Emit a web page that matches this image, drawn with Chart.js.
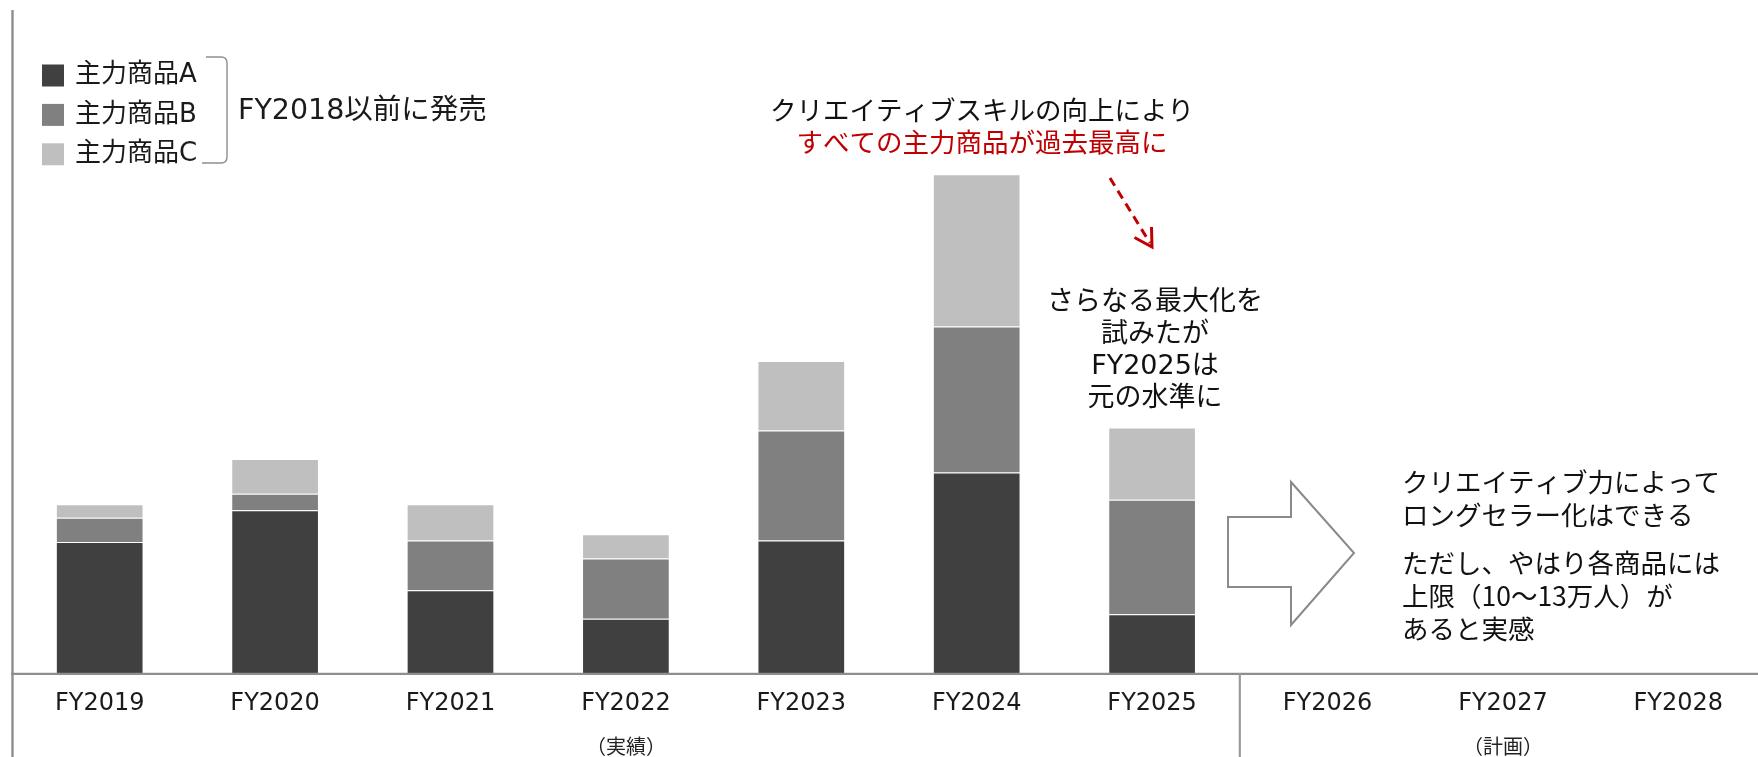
<!DOCTYPE html>
<html lang="ja">
<head>
<meta charset="utf-8">
<title>主力商品の推移</title>
<script src="https://cdn.jsdelivr.net/npm/chart.js@4/dist/chart.umd.min.js"></script>
<style>
html, body { margin:0; padding:0; background:#fff; overflow:hidden; }
#wrap { width:1770px; height:757px; }
</style>
</head>
<body>
<div id="wrap"><canvas id="salesChart" width="1770" height="757"></canvas></div>
<script>

/* DATA (万人) */

const years = ["FY2019","FY2020","FY2021","FY2022","FY2023","FY2024","FY2025","FY2026","FY2027","FY2028"];

const productA = [8.7, 10.8, 5.5, 3.6, 8.8, 13.3, 3.9, null, null, null];
const productB = [1.6, 1.1, 3.3, 4.0, 7.3, 9.7, 7.6, null, null, null];
const productC = [0.9, 2.3, 2.4, 1.6, 4.6, 10.1, 4.8, null, null, null];

const seriesNames = ["主力商品A","主力商品B","主力商品C"];
const seriesColors = ["#404040","#808080","#bfbfbf"];

const periodLabels = ["（実績）","（計画）"];

// wide latin glyphs first, CJK falls back to Noto
const FONT = "'Noto Sans CJK JP', 'Noto Sans', sans-serif";
const FONT_LATIN = "'DejaVu Sans', 'Noto Sans CJK JP', sans-serif";
const LINE_GRAY = "#8e8e8e";
const RED = "#c00000";

/* HELPERS */

function drawText(ctx, text, x, y, size, color, align, family){

    ctx.font = size + "px " + (family || FONT);
    ctx.fillStyle = color;
    ctx.textAlign = align || "left";
    ctx.textBaseline = "middle";
    ctx.fillText(text, x, y);

}

function drawLine(ctx, x1, y1, x2, y2, color, width){

    ctx.beginPath();
    ctx.strokeStyle = color;
    ctx.lineWidth = width;
    ctx.moveTo(x1, y1);
    ctx.lineTo(x2, y2);
    ctx.stroke();

}

/* FRAME + NOTES */

const notesPlugin = {

    id: "notes",

    afterDatasetsDraw(chart){

        const ctx = chart.ctx;
        const area = chart.chartArea;
        const x = chart.scales.x;
        const H = chart.height;

        ctx.save();

        // axis lines
        drawLine(ctx, 12.5, 10, 12.5, H, LINE_GRAY, 2.4);
        drawLine(ctx, 11, area.bottom + 0.9, chart.width, area.bottom + 0.9, LINE_GRAY, 2.4);

        // divider between 実績 and 計画
        const split = (x.getPixelForValue(6) + x.getPixelForValue(7)) / 2;
        drawLine(ctx, split, area.bottom, split, H, "#9a9a9a", 2.2);

        // period labels
        const midActual = (x.getPixelForValue(0) + x.getPixelForValue(6)) / 2;
        const midPlan = (x.getPixelForValue(7) + x.getPixelForValue(9)) / 2;
        drawText(ctx, periodLabels[0], midActual, 746, 20, "#222", "center");
        drawText(ctx, periodLabels[1], midPlan, 746, 20, "#222", "center");

        // legend
        seriesNames.forEach((name, i) => {
            const cy = 75.5 + i * 39.4;
            ctx.fillStyle = seriesColors[i];
            ctx.fillRect(42, cy - 11, 22, 22);
            drawText(ctx, name, 75, cy, 26, "#1a1a1a", "left", FONT_LATIN);
        });

        // bracket
        ctx.beginPath();
        ctx.strokeStyle = LINE_GRAY;
        ctx.lineWidth = 1.4;
        ctx.moveTo(206, 57);
        ctx.lineTo(221, 57);
        ctx.quadraticCurveTo(227, 57, 227, 63);
        ctx.lineTo(227, 157);
        ctx.quadraticCurveTo(227, 163, 221, 163);
        ctx.lineTo(202, 163);
        ctx.stroke();

        drawText(ctx, "FY2018以前に発売", 238, 112, 28.5, "#1a1a1a", "left", FONT_LATIN);

        // top note
        drawText(ctx, "クリエイティブスキルの向上により", 982, 110, 26.5, "#111", "center");
        drawText(ctx, "すべての主力商品が過去最高に", 982, 142, 26.5, RED, "center");

        // dashed red arrow
        const tip = {x:1152, y:247};
        ctx.setLineDash([9, 6]);
        drawLine(ctx, 1110, 178, tip.x - 2, tip.y - 4, RED, 3);
        ctx.setLineDash([]);
        ctx.beginPath();
        ctx.strokeStyle = RED;
        ctx.lineWidth = 3;
        ctx.moveTo(1151.5, 227);
        ctx.lineTo(tip.x, tip.y);
        ctx.lineTo(1134.5, 237.5);
        ctx.stroke();

        // FY2025 note
        ["さらなる最大化を","試みたが","FY2025は","元の水準に"].forEach((t, i) => {
            drawText(ctx, t, 1155, 302.5 + i * 32.2, 27, "#111", "center", FONT_LATIN);
        });

        // outlined arrow
        ctx.beginPath();
        ctx.strokeStyle = "#8a8a8a";
        ctx.lineWidth = 2;
        ctx.moveTo(1228, 517);
        ctx.lineTo(1291, 517);
        ctx.lineTo(1291, 482);
        ctx.lineTo(1354, 553);
        ctx.lineTo(1291, 625);
        ctx.lineTo(1291, 587);
        ctx.lineTo(1228, 587);
        ctx.closePath();
        ctx.stroke();

        // plan note
        const planLines = [
            ["クリエイティブ力によって", 482],
            ["ロングセラー化はできる", 514.5],
            ["ただし、やはり各商品には", 563],
            ["上限（10～13万人）が", 596],
            ["あると実感", 629]
        ];
        planLines.forEach(p => drawText(ctx, p[0], 1402, p[1], 26.5, "#111"));

        ctx.restore();

    }

};

/* CHART */

function makeDataset(i, values){

    return {
        label: seriesNames[i],
        data: values,
        backgroundColor: seriesColors[i],
        borderColor: "rgba(255,255,255,0.35)",
        borderWidth: 1,
        barPercentage: 0.5,
        categoryPercentage: 1.0
    };

}

new Chart(document.getElementById("salesChart"), {

    type: "bar",

    data: {
        labels: years,
        datasets: [
            makeDataset(0, productA),
            makeDataset(1, productB),
            makeDataset(2, productC)
        ]
    },

    plugins: [notesPlugin],

    options: {
        responsive: false,
        animation: false,
        layout: {
            padding: { top: 10, left: 12, right: 4, bottom: 0 }
        },
        plugins: {
            legend: { display: false },
            tooltip: { enabled: false }
        },
        scales: {
            x: {
                stacked: true,
                grid: { display: false, drawTicks: false },
                border: { display: false },
                ticks: {
                    autoSkip: false,
                    maxRotation: 0,
                    padding: 16,
                    color: "#1a1a1a",
                    font: { family: FONT_LATIN, size: 24 }
                },
                afterFit: scale => { scale.height = 84; }
            },
            y: {
                stacked: true,
                display: false,
                min: 0,
                max: 44
            }
        }
    }

});

</script>
</body>
</html>
